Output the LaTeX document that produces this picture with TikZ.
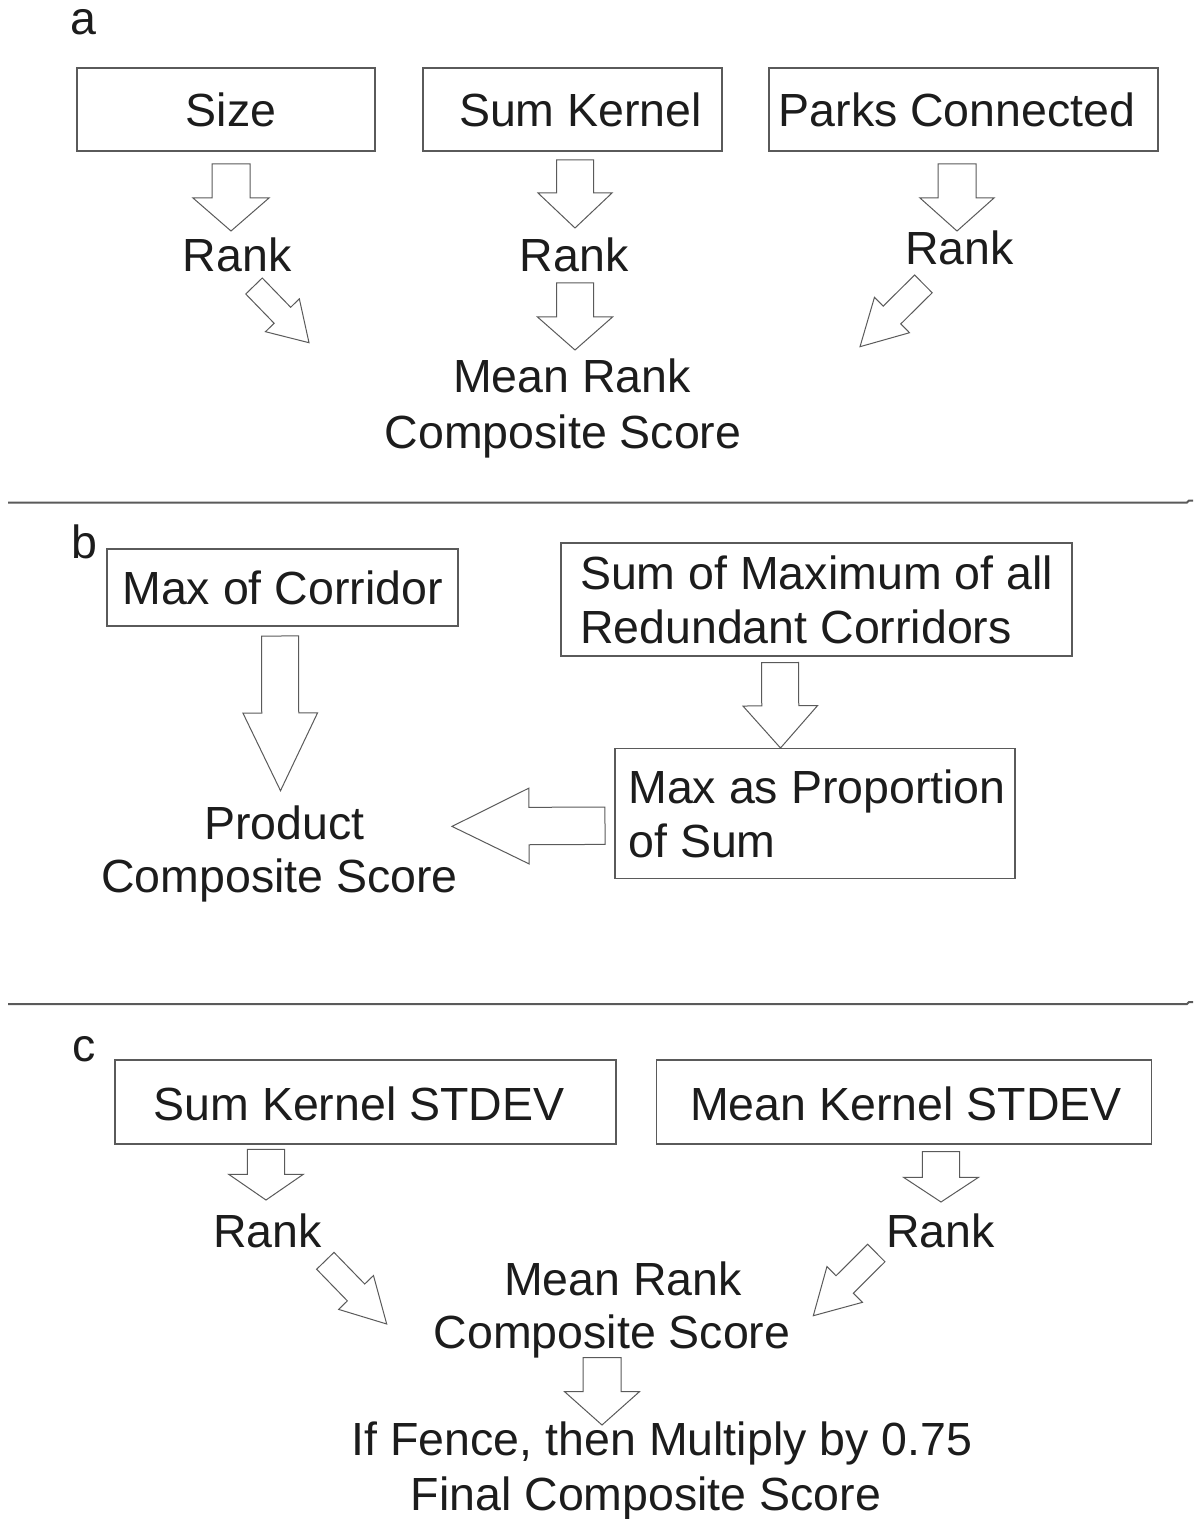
\documentclass[tikz,border=0pt]{standalone}
\usepackage{fontspec}
\setmainfont{Liberation Sans}
\usepackage{tikz}
\usetikzlibrary{calc}

\definecolor{lineg}{HTML}{5A5A5A}
\definecolor{inkg}{HTML}{1C1C1C}

\tikzset{
    txt/.style={anchor=base, inner sep=0pt, text=inkg, font=\fontsize{23.25}{27}\selectfont},
    stepbox/.style={draw=lineg, line width=0.6pt, inner sep=0pt, text=inkg, font=\fontsize{23.25}{27}\selectfont},
    hollow/.style={draw=lineg, line width=0.5pt, fill=white, line join=miter},
    divider/.style={draw=lineg, line width=1pt}
}

% tail, tip, half shaft, half head, head length
\newcommand{\flowarrow}[5]{%
    \coordinate (hd) at ($(#2)!#5!(#1)$);
    \draw [hollow] ($(#1)!#3!90:(#2)$) -- ($(hd)!#3!90:(#2)$) -- ($(hd)!#4!90:(#2)$) -- (#2)
        -- ($(hd)!#4!-90:(#2)$) -- ($(hd)!#3!-90:(#2)$) -- ($(#1)!#3!-90:(#2)$) -- cycle;
}

\begin{document}
\begin{tikzpicture}[x=0.5pt, y=-0.5pt]
                \useasboundingbox (0,0) rectangle (1200,1519);
                \fill [white] (0,0) rectangle (1200,1519);

                % a
                \node [txt] (pa) at (83,35) {a};
                \node [stepbox, minimum width=149pt, minimum height=41.5pt] (size) at (226,109.5) {\hspace*{5pt}Size};
                \node [stepbox, minimum width=149.5pt, minimum height=41.5pt] (sumk) at (572.5,109.5) {\hspace*{8pt}Sum Kernel};
                \node [stepbox, minimum width=194.5pt, minimum height=41.5pt] (parks) at (963.5,109.5) {Parks Connected\hspace*{6.5pt}};
                \node [txt] (rsize) at (237,272) {Rank};
                \node [txt] (rsumk) at (574,272) {Rank};
                \node [txt] (rparks) at (959.5,265) {Rank};
                \node [txt] (meana) at (572,393) {Mean Rank};
                \node [txt] (compa) at (563,448) {Composite Score};

                \coordinate (s1) at (231,164);   \coordinate (e1) at (231,231);
                \coordinate (s2) at (575,160);   \coordinate (e2) at (575,228);
                \coordinate (s3) at (575,283);   \coordinate (e3) at (575,350);
                \coordinate (s4) at (957,164);   \coordinate (e4) at (957,231);
                \coordinate (s5) at (254,286);   \coordinate (e5) at (309,342.7);
                \coordinate (s6) at (923.4,283.9); \coordinate (e6) at (860,346.7);
                \flowarrow{s1}{e1}{9.5pt}{19pt}{16.5pt}
                \flowarrow{s2}{e2}{9.25pt}{18.5pt}{17.5pt}
                \flowarrow{s3}{e3}{9.25pt}{18.75pt}{16.5pt}
                \flowarrow{s4}{e4}{9.5pt}{18.5pt}{16.5pt}
                \flowarrow{s5}{e5}{5.75pt}{11.8pt}{19.1pt}
                \flowarrow{s6}{e6}{6.25pt}{12.45pt}{22.5pt}

                \draw [divider] (8,502.5) -- (1187,502.5) -- (1189,500.5) -- (1193,500.5);

                % b
                \node [txt] (pb) at (84.5,558) {b};
                \node [stepbox, minimum width=175.5pt, minimum height=38.5pt] (maxcor) at (282.5,587.5) {Max of Corridor};
                \node [stepbox, align=left, minimum width=255.5pt, minimum height=56.5pt] (summax) at (816.5,599.5) {Sum of Maximum of all\\Redundant Corridors};
                \node [stepbox, align=left, minimum width=200pt, minimum height=65pt] (maxprop) at (815,813.5) {\hspace*{2pt}Max as Proportion\\\hspace*{2pt}of Sum};
                \node [txt] (prod) at (284.5,839) {Product};
                \node [txt] (compb) at (279.5,892.6) {Composite Score};

                \coordinate (s7) at (280,636);   \coordinate (e7) at (280.5,790.7);
                \coordinate (s8) at (780,662.6); \coordinate (e8) at (780.5,748);
                \coordinate (s9) at (605,825.7); \coordinate (e9) at (452,826.4);
                \flowarrow{s7}{e7}{9.25pt}{18.65pt}{38.85pt}
                \flowarrow{s8}{e8}{9.25pt}{18.65pt}{21.1pt}
                \flowarrow{s9}{e9}{9.35pt}{18.95pt}{38.5pt}

                \draw [divider] (8,1004) -- (1187,1004) -- (1189,1002) -- (1193,1002);

                % c
                \node [txt] (pc) at (84,1061.7) {c};
                \node [stepbox, minimum width=250.5pt, minimum height=42pt, text height=19pt] (sumsd) at (365.5,1102) {Sum Kernel STDEV\hspace*{6.5pt}};
                \node [stepbox, minimum width=247.5pt, minimum height=42pt, text height=19pt] (meansd) at (904,1102) {\hspace*{2pt}Mean Kernel STDEV};
                \node [txt] (rsumsd) at (267.5,1247.3) {Rank};
                \node [txt] (rmeansd) at (940.3,1247.3) {Rank};
                \node [txt] (meanc) at (623,1295) {Mean Rank};
                \node [txt] (compc) at (612,1348.3) {Composite Score};
                \node [txt] (fence) at (662,1455) {If Fence, then Multiply by 0.75};
                \node [txt] (final) at (646,1510) {Final Composite Score};

                \coordinate (s10) at (266,1149.3);   \coordinate (e10) at (266,1200);
                \coordinate (s11) at (941,1151.7);   \coordinate (e11) at (941,1202);
                \coordinate (s12) at (325.3,1260.8); \coordinate (e12) at (386.7,1324);
                \coordinate (s13) at (876.3,1253);   \coordinate (e13) at (813.3,1315.7);
                \coordinate (s14) at (602,1357.7);   \coordinate (e14) at (602,1425);
                \flowarrow{s10}{e10}{9.35pt}{18.65pt}{12.85pt}
                \flowarrow{s11}{e11}{9.35pt}{18.75pt}{12.35pt}
                \flowarrow{s12}{e12}{6.05pt}{12.15pt}{22pt}
                \flowarrow{s13}{e13}{6.15pt}{12.6pt}{22.15pt}
                \flowarrow{s14}{e14}{9.5pt}{18.7pt}{16.65pt}
            \end{tikzpicture}
\end{document}
